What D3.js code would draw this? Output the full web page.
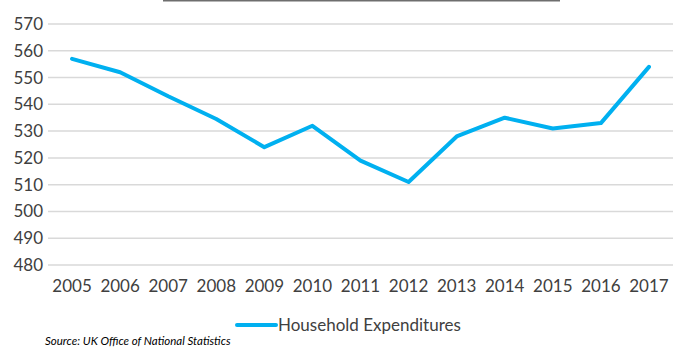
<!DOCTYPE html>
<html>
<head>
<meta charset="UTF-8">
<script src="https://d3js.org/d3.v7.min.js"></script>
<style>
  body { margin: 0; background: #fff; }
  text { font-family: Lato, "Open Sans", sans-serif; }
</style>
</head>
<body>
<div id="my_dataviz"></div>
<script>
// data
var years = ["2005", "2006", "2007", "2008", "2009", "2010", "2011", "2012", "2013", "2014", "2015", "2016", "2017"];
var expenditures = [557, 552, 543, 534.5, 524, 532, 519, 511, 528, 535, 531, 533, 554];
var yTicks = [480, 490, 500, 510, 520, 530, 540, 550, 560, 570];
var seriesName = "Household Expenditures";
var sourceText = "Source: UK Office of National Statistics";

var width = 683, height = 347;
var margin = { top: 24, right: 10, bottom: 82, left: 48 };

var svg = d3.select("#my_dataviz").append("svg")
  .attr("width", width)
  .attr("height", height);

// leftover title rule at the very top
svg.append("line")
  .attr("x1", 163).attr("x2", 560)
  .attr("y1", 0.5).attr("y2", 0.5)
  .attr("stroke", "#6e6e6e")
  .attr("stroke-width", 2);

var x = d3.scaleBand()
  .domain(years)
  .range([margin.left, width - margin.right]);

var y = d3.scaleLinear()
  .domain([480, 570])
  .range([height - margin.bottom, margin.top]);

// gridlines
svg.append("g")
  .selectAll("line")
  .data(yTicks)
  .enter().append("line")
  .attr("x1", margin.left)
  .attr("x2", width - margin.right)
  .attr("y1", function (d) { return y(d); })
  .attr("y2", function (d) { return y(d); })
  .attr("stroke", "#d9d9d9")
  .attr("stroke-width", 1.5);

// y axis
var yAxis = svg.append("g")
  .attr("transform", "translate(" + (margin.left - 5) + ",0)")
  .call(d3.axisLeft(y).tickValues(yTicks).tickSize(0).tickPadding(0));
yAxis.select(".domain").remove();
yAxis.selectAll("text")
  .style("font-size", "17px")
  .style("font-family", "Lato, sans-serif")
  .attr("fill", "#404040");

// x axis
var xAxis = svg.append("g")
  .attr("transform", "translate(0," + (height - margin.bottom) + ")")
  .call(d3.axisBottom(x).tickSize(0).tickPadding(15));
xAxis.select(".domain").remove();
xAxis.selectAll("text")
  .style("font-size", "17px")
  .style("font-family", "Lato, sans-serif")
  .attr("fill", "#404040");

// the line
var line = d3.line()
  .x(function (d, i) { return x(years[i]) + x.bandwidth() / 2; })
  .y(function (d) { return y(d); });

svg.append("path")
  .datum(expenditures)
  .attr("fill", "none")
  .attr("stroke", "#00b0f0")
  .attr("stroke-width", 4)
  .attr("stroke-linejoin", "round")
  .attr("stroke-linecap", "round")
  .attr("d", line);

// legend
svg.append("line")
  .attr("x1", 237).attr("x2", 276)
  .attr("y1", 325).attr("y2", 325)
  .attr("stroke", "#00b0f0")
  .attr("stroke-width", 4)
  .attr("stroke-linecap", "round");

svg.append("text")
  .attr("x", 278)
  .attr("y", 331)
  .style("font-size", "17px")
  .attr("fill", "#404040")
  .text(seriesName);

// source note
svg.append("text")
  .attr("x", 45)
  .attr("y", 345)
  .style("font-size", "11.5px")
  .style("font-style", "italic")
  .attr("fill", "#000")
  .text(sourceText);
</script>
</body>
</html>
